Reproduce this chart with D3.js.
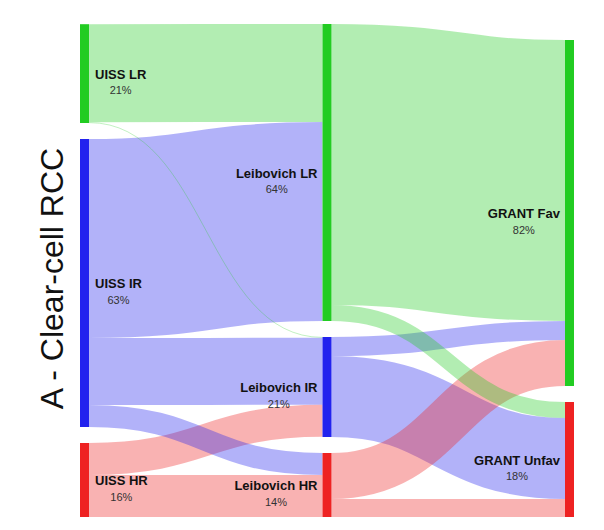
<!DOCTYPE html>
<html>
<head>
<meta charset="utf-8">
<script src="https://cdn.jsdelivr.net/npm/d3@7"></script>
<style>
  html, body { margin: 0; padding: 0; background: #fff; }
  svg { display: block; }
</style>
</head>
<body>
<script>
// ---- data ----
const nodeNames   = ["UISS LR", "UISS IR", "UISS HR", "Leibovich LR", "Leibovich IR", "Leibovich HR", "GRANT Fav", "GRANT Unfav"];
const nodeColumns = [0, 0, 0, 1, 1, 1, 2, 2];
const nodePercents = ["21%", "63%", "16%", "64%", "21%", "14%", "82%", "18%"];
const nodeGroups  = ["LR", "IR", "HR", "LR", "IR", "HR", "LR", "HR"];

const linkSources = [0, 0, 1, 1, 1, 2, 2, 3, 3, 4, 4, 5, 5];
const linkTargets = [3, 4, 3, 4, 5, 4, 5, 6, 7, 6, 7, 6, 7];
const linkValues  = [98, 0.8, 199, 67, 22, 32, 42, 281, 16, 19, 81, 46, 18];

const chartTitle = "A - Clear-cell RCC";

// ---- layout ----
const W = 604, H = 530;
const yTop = 24, yBottom = 517, pad = 16, nodeW = 9;
const groupColor = { LR: "#22cc22", IR: "#2222ee", HR: "#ee2222" };
const font = "'Liberation Sans', Arial, Helvetica, sans-serif";

const svg = d3.select("body").append("svg").attr("width", W).attr("height", H);

const nodes = nodeNames.map((name, i) => ({ i, name, col: nodeColumns[i], pct: nodePercents[i], color: groupColor[nodeGroups[i]], inL: [], outL: [] }));
const links = linkValues.map((v, k) => ({ source: nodes[linkSources[k]], target: nodes[linkTargets[k]], value: v }));
links.forEach(l => { l.source.outL.push(l); l.target.inL.push(l); });
nodes.forEach(n => { n.value = Math.max(d3.sum(n.inL, l => l.value), d3.sum(n.outL, l => l.value)); });

const cols = d3.groups(nodes, n => n.col).sort((a, b) => a[0] - b[0]);
const maxN = d3.max(cols, c => c[1].length);
const maxTotal = d3.max(cols, c => d3.sum(c[1], n => n.value));
const ky = d3.scaleLinear().domain([0, maxTotal]).range([0, (yBottom - yTop) - (maxN - 1) * pad]);
const x = d3.scalePoint().domain(cols.map(c => c[0])).range([80, 565]);

cols.forEach(([c, ns]) => {
  const total = d3.sum(ns, n => ky(n.value)) + (ns.length - 1) * pad;
  let y = yBottom - total;
  ns.forEach(n => {
    n.x0 = x(c); n.x1 = n.x0 + nodeW;
    n.y0 = y; n.y1 = y + ky(n.value);
    y = n.y1 + pad;
  });
});

nodes.forEach(n => {
  n.outL.sort((a, b) => a.target.y0 - b.target.y0);
  n.inL.sort((a, b) => a.source.y0 - b.source.y0);
  let sy = n.y0;
  n.outL.forEach(l => { l.w = ky(l.value); l.sy = sy + l.w / 2; sy += l.w; });
  let ty = n.y0;
  n.inL.forEach(l => { const w = ky(l.value); l.ty = ty + w / 2; ty += w; });
});

const linkGen = d3.linkHorizontal()
  .source(d => [d.source.x1, d.sy])
  .target(d => [d.target.x0, d.ty]);

// draw big flows first so thin ones stay visible on top
const drawOrder = links.slice().sort((a, b) => b.value - a.value);

svg.append("g").attr("fill", "none")
  .selectAll("path").data(drawOrder).join("path")
  .attr("d", linkGen)
  .attr("stroke", d => d.source.color)
  .attr("stroke-opacity", 0.35)
  .attr("stroke-width", d => Math.max(0.8, d.w));

svg.append("g").selectAll("rect").data(nodes).join("rect")
  .attr("x", d => d.x0).attr("y", d => d.y0)
  .attr("width", nodeW).attr("height", d => d.y1 - d.y0)
  .attr("fill", d => d.color);

// labels
const lg = svg.append("g").attr("font-family", font);
nodes.forEach(n => {
  const mid = (n.y0 + n.y1) / 2;
  const left = n.col === 0;
  const name = lg.append("text")
    .attr("x", left ? n.x1 + 6 : n.x0 - 5)
    .attr("y", mid + 5)
    .attr("text-anchor", left ? "start" : "end")
    .attr("font-size", 13).attr("font-weight", "bold").attr("fill", "#111")
    .text(n.name);
  const w = name.node().getComputedTextLength();
  const cx = left ? n.x1 + 6 + w / 2 : n.x0 - 5 - w / 2;
  lg.append("text")
    .attr("x", cx).attr("y", mid + 20.5)
    .attr("text-anchor", "middle")
    .attr("font-size", 11).attr("fill", "#333")
    .text(n.pct);
});

svg.append("text")
  .attr("transform", "translate(63,278.5) rotate(-90)")
  .attr("text-anchor", "middle")
  .attr("font-family", font).attr("font-size", 32).attr("fill", "#111")
  .text(chartTitle);
</script>
</body>
</html>
